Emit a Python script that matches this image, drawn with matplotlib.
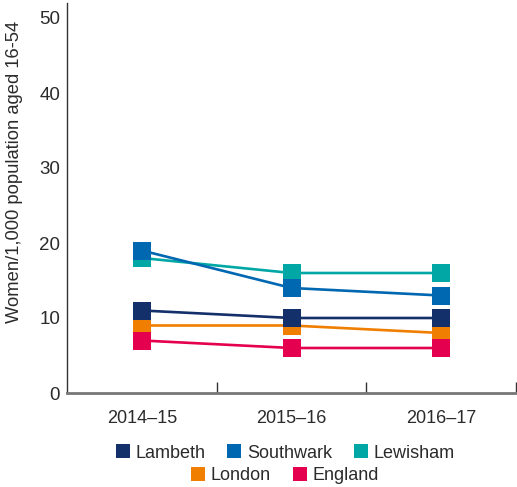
import matplotlib
matplotlib.use("Agg")
import matplotlib.pyplot as plt
from matplotlib.lines import Line2D

plt.rcParams['font.family'] = ['Liberation Sans', 'DejaVu Sans']

years = ["2014–15", "2015–16", "2016–17"]
lambeth = [11, 10, 10]
southwark = [19, 14, 13]
lewisham = [18, 16, 16]
london = [9, 9, 8]
england = [7, 6, 6]

names = ["Lambeth", "Southwark", "Lewisham", "London", "England"]
colors = ["#13306a", "#0067b1", "#00a7a5", "#f07e00", "#e5004f"]
series = [lambeth, southwark, lewisham, london, england]
zorders = [7, 5, 4, 5, 6]

text_col = "#2b2b2b"

fig = plt.figure(figsize=(5.17, 4.87), dpi=100)
ax = fig.add_axes([67 / 517, 94 / 487, 449 / 517, 390 / 487])

x = range(len(years))
for name, vals, c, z in zip(names, series, colors, zorders):
    ax.plot(x, vals, color=c, lw=1.9, marker="s", ms=12.5, mew=0,
            zorder=z, label=name)

ax.set_xlim(-0.5, 2.5)
ax.set_ylim(0, 52)
ax.set_yticks([0, 10, 20, 30, 40, 50])
ax.set_xticks(list(x))
ax.set_xticklabels(years)
ax.set_xticks([0.5, 1.5, 2.5], minor=True)
ax.tick_params(axis="x", which="major", length=0, pad=12, labelsize=13, colors=text_col)
ax.tick_params(axis="x", which="minor", direction="in", length=8, width=1, color="#333333")
ax.tick_params(axis="y", length=0, pad=5, labelsize=13.5, colors=text_col)
ax.set_ylabel("Women/1,000 population aged 16-54", fontsize=13.2, color=text_col)
ax.yaxis.set_label_coords(-0.098, 0.567)

for s in ["top", "right"]:
    ax.spines[s].set_visible(False)
ax.spines["left"].set_color("#333333")
ax.spines["left"].set_linewidth(1)
ax.spines["bottom"].set_color("#777777")
ax.spines["bottom"].set_linewidth(2)

handles = [Line2D([], [], marker="s", ls="none", color=c, ms=10, mew=0) for c in colors]
leg1 = fig.legend(handles[:3], names[:3], loc="center", bbox_to_anchor=(285 / 517, 1 - 453 / 487),
                  ncol=3, frameon=False, fontsize=13, handlelength=0.8, handletextpad=0.3,
                  columnspacing=1.2, labelcolor=text_col)
leg2 = fig.legend(handles[3:], names[3:], loc="center", bbox_to_anchor=(285 / 517, 1 - 476 / 487),
                  ncol=2, frameon=False, fontsize=13, handlelength=0.8, handletextpad=0.3,
                  columnspacing=1.2, labelcolor=text_col)

fig.savefig("out.png", dpi=100)
